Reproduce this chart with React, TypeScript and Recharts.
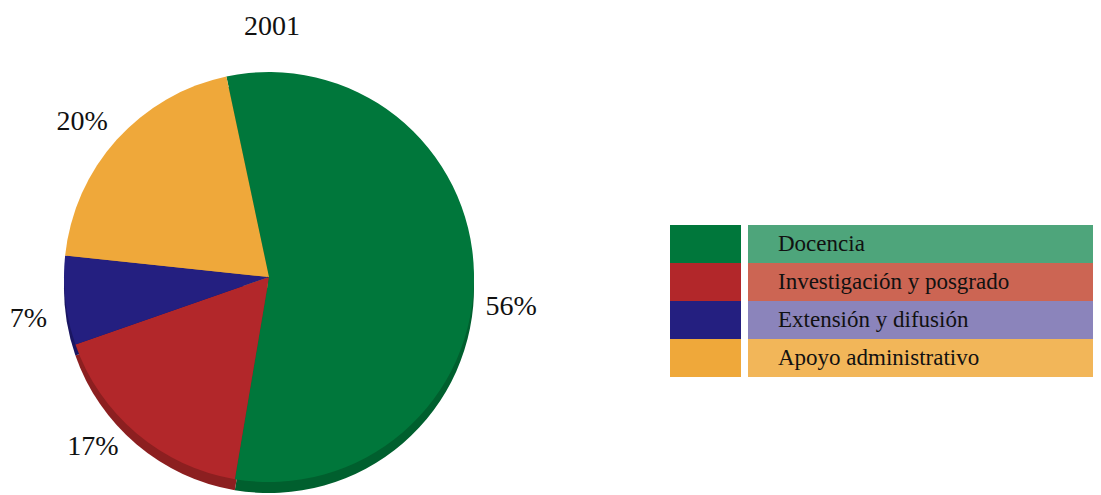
import React from 'react';
import { PieChart, Pie, Cell } from 'recharts';

const CATEGORIES = ['Docencia', 'Investigación y posgrado', 'Extensión y difusión', 'Apoyo administrativo'];
const VALUES = [56, 17, 7, 20];
const TITLE = '2001';

const COLORS = ['#00773b', '#b2272a', '#241f80', '#efa83a'];
const RIM_COLORS = ['#005f2e', '#8c1f20', '#1a1662', '#c98b2c'];
const BAR_COLORS = ['#4ea57b', '#cc6553', '#8b84bb', '#f2b659'];
// small angular nudges so the % labels sit where the original put them
const LABEL_NUDGE = [-8, -6, 3, 2];

const FONT = '"Liberation Serif", "DejaVu Serif", serif';
const RADIAN = Math.PI / 180;

const data = CATEGORIES.map((name, i) => ({ name, value: VALUES[i] }));

const renderLabel = (props: any) => {
    const { cx, cy, midAngle, outerRadius, index, value } = props;
    const a = (midAngle + LABEL_NUDGE[index]) * RADIAN;
    const r = outerRadius + 39;
    const x = cx + r * Math.cos(a);
    const y = cy - r * Math.sin(a);
    return (
        <text x={x} y={y} fill="#111" fontFamily={FONT} fontSize={28} textAnchor="middle" dominantBaseline="central">
            {`${value}%`}
        </text>
    );
};

const App: React.FC = () => {
    return (
        <div style={{ position: 'relative', width: 1093, height: 487, background: '#fff' }}>
            <div style={{ position: 'absolute', left: 214, top: 2, width: 100, textAlign: 'center', fontFamily: FONT, fontSize: 28, color: '#111' }}>
                {TITLE}
            </div>
            <PieChart width={1093} height={487}>
                <Pie
                    data={data}
                    dataKey="value"
                    nameKey="name"
                    cx={256}
                    cy={275}
                    outerRadius={205}
                    startAngle={102}
                    endAngle={-258}
                    stroke="none"
                    isAnimationActive={false}
                >
                    {data.map((entry, index) => (
                        <Cell key={`rim-${index}`} fill={RIM_COLORS[index]} />
                    ))}
                </Pie>
                <Pie
                    data={data}
                    dataKey="value"
                    nameKey="name"
                    cx={256}
                    cy={264}
                    outerRadius={205}
                    startAngle={102}
                    endAngle={-258}
                    stroke="none"
                    labelLine={false}
                    label={renderLabel}
                    isAnimationActive={false}
                >
                    {data.map((entry, index) => (
                        <Cell key={`cell-${index}`} fill={COLORS[index]} />
                    ))}
                </Pie>
            </PieChart>
            <div style={{ position: 'absolute', left: 662, top: 217, width: 431 }}>
                {CATEGORIES.map((name, i) => (
                    <div key={name} style={{ display: 'flex', height: 38 }}>
                        <div style={{ width: 71, background: COLORS[i] }} />
                        <div style={{ width: 7, background: '#fff' }} />
                        <div style={{ flex: 1, background: BAR_COLORS[i], display: 'flex', alignItems: 'center', paddingLeft: 30, fontFamily: FONT, fontSize: 23, color: '#111' }}>
                            {name}
                        </div>
                    </div>
                ))}
            </div>
        </div>
    );
};

export default App;
